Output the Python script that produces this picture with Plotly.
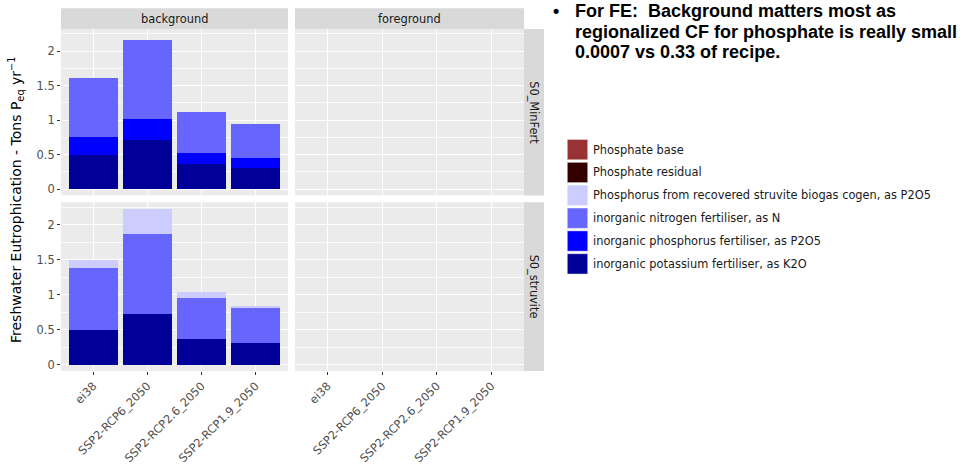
import plotly.graph_objects as go

# ---- data -------------------------------------------------------------
scenarios = ["ei38", "SSP2-RCP6_2050", "SSP2-RCP2.6_2050", "SSP2-RCP1.9_2050"]
scopes = ["background", "foreground"]
systems = ["S0_MinFert", "S0_struvite"]

series_names = [
    "Phosphate base",
    "Phosphate residual",
    "Phosphorus from recovered struvite biogas cogen, as P2O5",
    "inorganic nitrogen fertiliser, as N",
    "inorganic phosphorus fertiliser, as P2O5",
    "inorganic potassium fertiliser, as K2O",
]
series_colors = ["#993333", "#330000", "#CCCCFF", "#6666FF", "#0000FF", "#000099"]

# Freshwater eutrophication, tons P-eq per year
# background contributions, S0_MinFert system
minfert_potassium = [0.50, 0.72, 0.37, 0.31]
minfert_phosphorus = [0.25, 0.30, 0.16, 0.14]
minfert_nitrogen = [0.86, 1.14, 0.59, 0.50]
# background contributions, S0_struvite system
struvite_potassium = [0.50, 0.72, 0.37, 0.31]
struvite_nitrogen = [0.88, 1.15, 0.59, 0.50]
struvite_recovered = [0.12, 0.36, 0.08, 0.02]
# foreground phosphate emissions (negligible with regionalised CF)
fg_phosphate_base = [0.0, 0.0, 0.0, 0.0]
fg_phosphate_residual = [0.0, 0.0, 0.0, 0.0]

# panel -> {series name: values}
panels = {
    (0, 0): {
        series_names[5]: minfert_potassium,
        series_names[4]: minfert_phosphorus,
        series_names[3]: minfert_nitrogen,
    },
    (0, 1): {
        series_names[1]: fg_phosphate_residual,
        series_names[0]: fg_phosphate_base,
    },
    (1, 0): {
        series_names[5]: struvite_potassium,
        series_names[3]: struvite_nitrogen,
        series_names[2]: struvite_recovered,
    },
    (1, 1): {
        series_names[1]: fg_phosphate_residual,
        series_names[0]: fg_phosphate_base,
    },
}

# ---- geometry (pixels on a 965 x 465 page) ------------------------------
W, H = 965, 465
def fx(px):
    return px / W
def fy(py):
    return 1 - py / H

col_px = [(61, 288), (295, 524)]
row_px = [(29.3, 197.5), (204.5, 375)]
strip_top = (8.3, 29.3)
strip_right = (524, 544)

TEXT_FONT = "DejaVu Sans"
SMALL = 11.4
PANEL_BG = "#EBEBEB"
STRIP_BG = "#D9D9D9"

fig = go.Figure()

# stacking order: last legend entry at the bottom of each bar
color_of = dict(zip(series_names, series_colors))
for (r, c), content in panels.items():
    idx = r * 2 + c + 1
    xa = "x" if idx == 1 else f"x{idx}"
    ya = "y" if idx == 1 else f"y{idx}"
    for name in reversed(series_names):
        if name not in content:
            continue
        fig.add_trace(go.Bar(
            x=scenarios, y=content[name], name=name,
            marker=dict(color=color_of[name], line=dict(width=0)),
            xaxis=xa, yaxis=ya, showlegend=False,
            hovertemplate="%{x}<br>%{y:.2f}<extra>" + name + "</extra>",
        ))

# common y range from the largest stacked total
totals = []
for content in panels.values():
    for i in range(len(scenarios)):
        totals.append(sum(v[i] for v in content.values()))
ymax = max(totals)
yrange = [-0.04 * ymax, 1.041 * ymax]

layout = dict(
    width=W, height=H,
    margin=dict(l=0, r=0, t=0, b=0),
    paper_bgcolor="white",
    plot_bgcolor=PANEL_BG,
    barmode="stack",
    bargap=0.1,
    showlegend=False,
    font=dict(family=TEXT_FONT, size=SMALL, color="#4D4D4D"),
)

for r in range(2):
    for c in range(2):
        idx = r * 2 + c + 1
        sx = "" if idx == 1 else str(idx)
        xa = dict(
            domain=[fx(col_px[c][0]), fx(col_px[c][1])],
            anchor="y" + sx,
            type="category",
            categoryorder="array", categoryarray=scenarios,
            range=[-0.6, len(scenarios) - 0.4],
            showgrid=True, gridcolor="white", gridwidth=1.1,
            zeroline=False, showline=False,
            ticks="outside" if r == 1 else "",
            ticklen=3, tickwidth=1.1, tickcolor="#333333",
            showticklabels=(r == 1),
            tickangle=-45,
            tickfont=dict(family=TEXT_FONT, size=SMALL, color="#4D4D4D"),
            fixedrange=True,
        )
        if idx != 1:
            xa["matches"] = "x"
        ya = dict(
            domain=[fy(row_px[r][1]), fy(row_px[r][0])],
            anchor="x" + sx,
            range=yrange,
            tickmode="linear", tick0=0, dtick=0.5,
            showgrid=True, gridcolor="white", gridwidth=1.1,
            minor=dict(dtick=0.25, tick0=0, showgrid=True,
                       gridcolor="rgba(255,255,255,0.75)", gridwidth=0.6),
            zeroline=False, showline=False,
            ticks="outside" if c == 0 else "",
            ticklen=3, tickwidth=1.1, tickcolor="#333333",
            showticklabels=(c == 0),
            tickfont=dict(family=TEXT_FONT, size=SMALL, color="#4D4D4D"),
            fixedrange=True,
        )
        if idx != 1:
            ya["matches"] = "y"
        layout["xaxis" + sx] = xa
        layout["yaxis" + sx] = ya

fig.update_layout(**layout)

shapes = []
annotations = []

# facet strips
for c, label in enumerate(scopes):
    shapes.append(dict(type="rect", xref="paper", yref="paper",
                       x0=fx(col_px[c][0]), x1=fx(col_px[c][1]),
                       y0=fy(strip_top[1]), y1=fy(strip_top[0]),
                       fillcolor=STRIP_BG, line=dict(width=0), layer="below"))
    annotations.append(dict(text=label, xref="paper", yref="paper",
                            x=fx((col_px[c][0] + col_px[c][1]) / 2),
                            y=fy((strip_top[0] + strip_top[1]) / 2),
                            showarrow=False, xanchor="center", yanchor="middle",
                            font=dict(family=TEXT_FONT, size=SMALL, color="#1A1A1A")))
for r, label in enumerate(systems):
    shapes.append(dict(type="rect", xref="paper", yref="paper",
                       x0=fx(strip_right[0]), x1=fx(strip_right[1]),
                       y0=fy(row_px[r][1]), y1=fy(row_px[r][0]),
                       fillcolor=STRIP_BG, line=dict(width=0), layer="below"))
    annotations.append(dict(text=label, xref="paper", yref="paper",
                            x=fx((strip_right[0] + strip_right[1]) / 2),
                            y=fy((row_px[r][0] + row_px[r][1]) / 2),
                            showarrow=False, textangle=90,
                            xanchor="center", yanchor="middle",
                            font=dict(family=TEXT_FONT, size=SMALL, color="#1A1A1A")))

# y axis title
annotations.append(dict(
    text="Freshwater Eutrophication - Tons P<sub>eq</sub> yr<sup>\u22121</sup>",
    xref="paper", yref="paper", x=fx(16), y=fy((row_px[0][0] + row_px[1][1]) / 2),
    showarrow=False, textangle=-90, xanchor="center", yanchor="middle",
    font=dict(family=TEXT_FONT, size=14, color="#000000")))

# legend keys
key_x0, key_x1 = 567.3, 587.7
key_top0, key_step, key_h = 141.0, 23.1, 20.5
for i, (name, col) in enumerate(zip(series_names, series_colors)):
    top = key_top0 + i * key_step
    shapes.append(dict(type="rect", xref="paper", yref="paper",
                       x0=fx(key_x0), x1=fx(key_x1),
                       y0=fy(top + key_h), y1=fy(top),
                       fillcolor=col,
                       line=dict(color="rgba(242,242,242,0.45)", width=1)))
    annotations.append(dict(text=name, xref="paper", yref="paper",
                            x=fx(591.5), y=fy(top + key_h / 2),
                            showarrow=False, xanchor="left", yanchor="middle",
                            borderpad=0,
                            font=dict(family=TEXT_FONT, size=SMALL, color="#1A1A1A")))

# bullet note
note_lines = [
    "For FE:  Background matters most as",
    "regionalized CF for phosphate is really small",
    "0.0007 vs 0.33 of recipe.",
]
note_font = dict(family="Liberation Sans", size=18, color="#000000")
note_baselines = [16.7, 37.5, 58.3]
annotations.append(dict(text="<b>\u2022</b>", xref="paper", yref="paper",
                        x=fx(555.7), y=fy(note_baselines[0] - 0.3 * 18),
                        showarrow=False, xanchor="center", yanchor="middle",
                        borderpad=0, font=note_font))
for line, base in zip(note_lines, note_baselines):
    annotations.append(dict(text="<b>" + line + "</b>", xref="paper", yref="paper",
                            x=fx(574.0), y=fy(base - 0.3 * 18),
                            showarrow=False, xanchor="left", yanchor="middle",
                            borderpad=0, font=note_font))

fig.update_layout(shapes=shapes, annotations=annotations)

fig.write_html("out.html")
